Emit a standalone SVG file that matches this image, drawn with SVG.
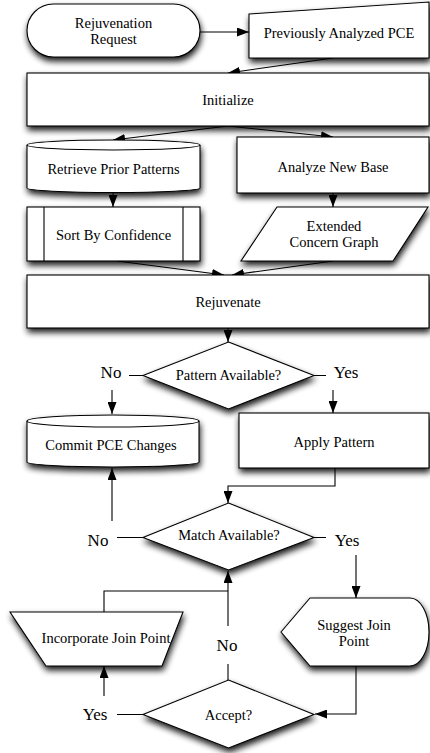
<svg xmlns="http://www.w3.org/2000/svg" width="430" height="753" viewBox="0 0 430 753">
<defs>
<filter id="sh" x="-10%" y="-20%" width="130%" height="160%">
<feGaussianBlur in="SourceAlpha" stdDeviation="3"/>
<feOffset dx="1" dy="4" result="b"/>
<feComponentTransfer><feFuncA type="linear" slope="0.9"/></feComponentTransfer>
<feMerge><feMergeNode/><feMergeNode in="SourceGraphic"/></feMerge>
</filter>
<marker id="ah" viewBox="0 0 12 9" refX="12" refY="4.5" markerWidth="12" markerHeight="9" markerUnits="userSpaceOnUse" orient="auto">
<path d="M0,0 L12,4.5 L0,9 Z" fill="#000"/>
</marker>
</defs>
<style>
.n{fill:#fff;stroke:#000;stroke-width:1.1;filter:url(#sh)}
.l{fill:none;stroke:#000;stroke-width:1.1}
.t{font-size:14.5px;fill:#000;text-anchor:middle}
.lb{font-size:17px;fill:#000;text-anchor:middle}
.bg{fill:#fff}
</style>
<rect width="430" height="753" fill="#fff"/>
<g font-family="'Liberation Serif', 'DejaVu Serif', 'Times New Roman', serif">
<g id="connectors">
<path class="l" d="M200,32 H249" marker-end="url(#ah)"/>
<path class="l" d="M333,58 L228,73" marker-end="url(#ah)"/>
<path class="l" d="M228,126 L113,140" marker-end="url(#ah)"/>
<path class="l" d="M228,126 L333,137" marker-end="url(#ah)"/>
<path class="l" d="M113,192 V207" marker-end="url(#ah)"/>
<path class="l" d="M333,193 V207" marker-end="url(#ah)"/>
<path class="l" d="M117,261 L224,275" marker-end="url(#ah)"/>
<path class="l" d="M333,261 L232,275" marker-end="url(#ah)"/>
<path class="l" d="M228,328 V342" marker-end="url(#ah)"/>
<path class="l" d="M143,375.5 H112 V414" marker-end="url(#ah)"/>
<path class="l" d="M314,375.5 H333 V413" marker-end="url(#ah)"/>
<path class="l" d="M335,468 V486 H228 V503" marker-end="url(#ah)"/>
<path class="l" d="M143,537.5 H112 V468" marker-end="url(#ah)"/>
<path class="l" d="M314,537.5 H356 V598" marker-end="url(#ah)"/>
<path class="l" d="M356,666 V714 H315" marker-end="url(#ah)"/>
<path class="l" d="M228,680 V571" marker-end="url(#ah)"/>
<path class="l" d="M143,714.5 H104 V666" marker-end="url(#ah)"/>
<path class="l" d="M104,612 V591 H228"/>
<rect class="bg" x="96" y="361" width="33" height="29"/>
<text class="lb" x="111" y="378">No</text>
<rect class="bg" x="326" y="361" width="40" height="29"/>
<text class="lb" x="346" y="378">Yes</text>
<rect class="bg" x="82" y="521" width="35" height="34"/>
<text class="lb" x="98" y="546">No</text>
<rect class="bg" x="326" y="524" width="42" height="31"/>
<text class="lb" x="347" y="546">Yes</text>
<rect class="bg" x="212" y="626" width="32" height="38"/>
<text class="lb" x="227" y="651">No</text>
<rect class="bg" x="78" y="696" width="39" height="32"/>
<text class="lb" x="95" y="720">Yes</text>
</g>

<g id="rejuvenation-request">
<rect class="n" x="27" y="4" width="173" height="53" rx="26.5"/>
<text class="t" x="113.5" y="28">Rejuvenation</text>
<text class="t" x="113.5" y="44">Request</text>
</g>
<g id="previously-analyzed-pce">
<polygon class="n" points="249,14 429,2 429,58 249,58"/>
<text class="t" x="339" y="38">Previously Analyzed PCE</text>
</g>
<g id="initialize">
<rect class="n" x="27" y="73" width="402" height="53"/>
<text class="t" x="228" y="105">Initialize</text>
</g>
<g id="retrieve-prior-patterns">
<path class="n" d="M27,145 A86.5,5 0 0 1 200,145 V188 A86.5,4.5 0 0 1 27,188 Z"/>
<path class="l" d="M27,145 A86.5,5 0 0 0 200,145"/>
<text class="t" x="113.5" y="174">Retrieve Prior Patterns</text>
</g>
<g id="analyze-new-base">
<rect class="n" x="237" y="137" width="192" height="56"/>
<text class="t" x="333" y="172">Analyze New Base</text>
</g>
<g id="sort-by-confidence">
<rect class="n" x="27" y="207" width="173" height="54"/>
<path class="l" d="M44,207 V261 M183,207 V261"/>
<text class="t" x="113.5" y="240">Sort By Confidence</text>
</g>
<g id="extended-concern-graph">
<polygon class="n" points="277,207 428,207 393,261 241,261"/>
<text class="t" x="334" y="231">Extended</text>
<text class="t" x="334" y="247">Concern Graph</text>
</g>
<g id="rejuvenate">
<rect class="n" x="27" y="275" width="402" height="53"/>
<text class="t" x="228" y="307">Rejuvenate</text>
</g>
<g id="pattern-available">
<polygon class="n" points="228.5,342 314,375.5 228.5,409 143,375.5"/>
<text class="t" x="228.5" y="380">Pattern Available?</text>
</g>
<g id="commit-pce-changes">
<path class="n" d="M27,421 A86,6 0 0 1 199,421 V462 A86,5 0 0 1 27,462 Z"/>
<path class="l" d="M27,421 A86,6 0 0 0 199,421"/>
<text class="t" x="111" y="450">Commit PCE Changes</text>
</g>
<g id="apply-pattern">
<rect class="n" x="239" y="413" width="190" height="55"/>
<text class="t" x="334" y="447">Apply Pattern</text>
</g>
<g id="match-available">
<polygon class="n" points="228.5,503 314,537.5 228.5,570 143,537.5"/>
<text class="t" x="229" y="540">Match Available?</text>
</g>
<g id="incorporate-join-point">
<polygon class="n" points="10,612 183,612 162,666 46,666"/>
<text class="t" x="106" y="643">Incorporate Join Point</text>
</g>
<g id="suggest-join-point">
<path class="n" d="M281,632 L310,598 H410 A19,34 0 0 1 410,666 H310 Z"/>
<text class="t" x="354" y="630">Suggest Join</text>
<text class="t" x="354" y="646">Point</text>
</g>
<g id="accept">
<polygon class="n" points="228.5,680 314,714.5 228.5,748 143,714.5"/>
<text class="t" x="228.5" y="720">Accept?</text>
</g>
</g>
</svg>
